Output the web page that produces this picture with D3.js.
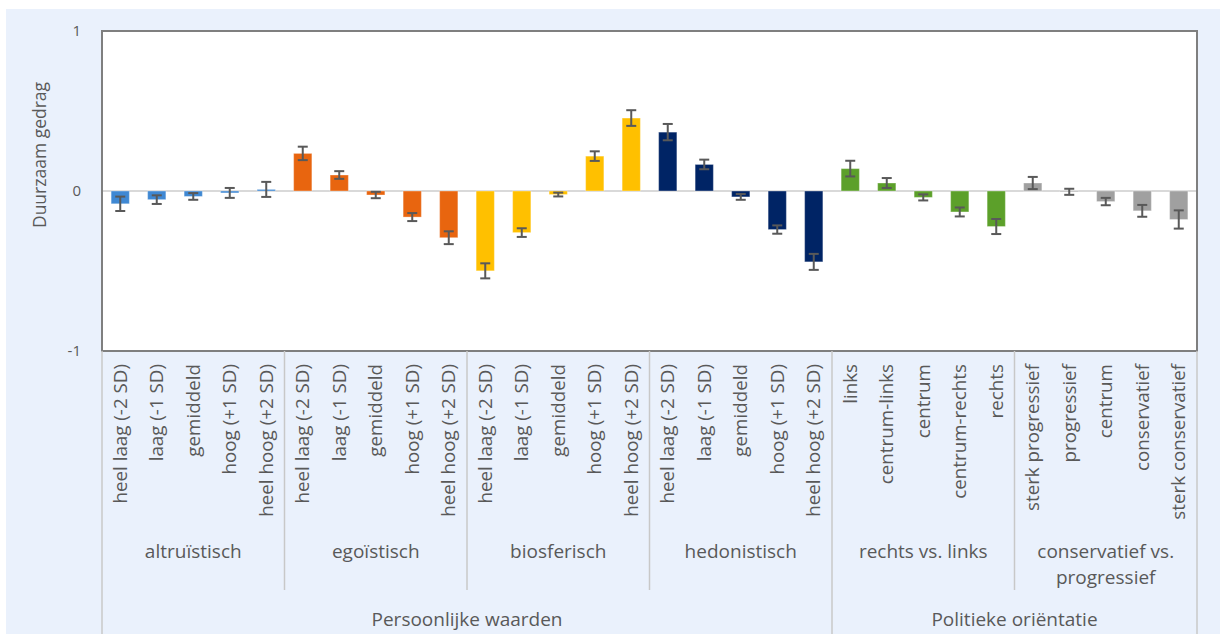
<!DOCTYPE html>
<html><head><meta charset="utf-8">
<script src="https://cdn.jsdelivr.net/npm/d3@7"></script>
<style>
html,body{margin:0;padding:0;background:#fff;}
svg{display:block;font-family:"Open Sans",Lato,sans-serif;}
</style></head>
<body><svg id="c" width="1220" height="634"></svg>
<script>
const categories = [
 "heel laag (-2 SD)","laag (-1 SD)","gemiddeld","hoog (+1 SD)","heel hoog (+2 SD)",
 "heel laag (-2 SD)","laag (-1 SD)","gemiddeld","hoog (+1 SD)","heel hoog (+2 SD)",
 "heel laag (-2 SD)","laag (-1 SD)","gemiddeld","hoog (+1 SD)","heel hoog (+2 SD)",
 "heel laag (-2 SD)","laag (-1 SD)","gemiddeld","hoog (+1 SD)","heel hoog (+2 SD)",
 "links","centrum-links","centrum","centrum-rechts","rechts",
 "sterk progressief","progressief","centrum","conservatief","sterk conservatief"];
const values = [-0.08,-0.054,-0.034,-0.012,0.01,
 0.235,0.10,-0.025,-0.163,-0.292,
 -0.499,-0.26,-0.022,0.218,0.456,
 0.368,0.166,-0.037,-0.241,-0.443,
 0.14,0.05,-0.04,-0.131,-0.222,
 0.05,-0.005,-0.066,-0.124,-0.178];
const errors = [0.045,0.027,0.021,0.031,0.047,
 0.042,0.024,0.02,0.025,0.04,
 0.047,0.027,0.012,0.03,0.049,
 0.051,0.03,0.018,0.026,0.05,
 0.049,0.031,0.019,0.028,0.047,
 0.038,0.019,0.023,0.037,0.057];
const subgroups = ["altruïstisch","egoïstisch","biosferisch","hedonistisch","rechts vs. links","conservatief vs.|progressief"];
const subgroupColors = ["#3f88d3","#e8650f","#ffc000","#002465","#5ca02a","#a0a0a0"];
const groups = ["Persoonlijke waarden","Politieke oriëntatie"];
const groupSizes = [4,2];
const yTicks = [-1,0,1];
const yTitle = "Duurzaam gedrag";

const svg = d3.select("#c");
const L=102, R=1197, T=31, B=351;
svg.append("rect").attr("x",6).attr("y",9).attr("width",1214).attr("height",625).attr("fill","#eaf1fc");
svg.append("rect").attr("x",L).attr("y",T).attr("width",R-L).attr("height",B-T).attr("fill","#fff");

const x = d3.scaleBand().domain(d3.range(categories.length)).range([L,R]).paddingInner(0.5).paddingOuter(0.25);
const y = d3.scaleLinear().domain([-1,1]).range([B,T]);

// zero line
svg.append("line").attr("x1",L).attr("x2",R).attr("y1",y(0)).attr("y2",y(0)).attr("stroke","#d9d9d9").attr("stroke-width",2);

// bars
svg.append("g").selectAll("rect").data(values).join("rect")
 .attr("x",(d,i)=>x(i)).attr("width",x.bandwidth())
 .attr("y",d=>y(Math.max(0,d))).attr("height",d=>Math.max(0.8,Math.abs(y(d)-y(0))))
 .attr("fill",(d,i)=>subgroupColors[Math.floor(i/5)])
 .attr("stroke","rgba(255,255,255,0.35)").attr("stroke-width",1);

// error bars
const eg = svg.append("g").attr("stroke","#595959").attr("stroke-width",2);
values.forEach((v,i)=>{
  const cx = x(i)+x.bandwidth()/2, e=errors[i];
  eg.append("line").attr("x1",cx).attr("x2",cx).attr("y1",y(v+e)).attr("y2",y(v-e));
  eg.append("line").attr("x1",cx-5).attr("x2",cx+5).attr("y1",y(v+e)).attr("y2",y(v+e));
  eg.append("line").attr("x1",cx-5).attr("x2",cx+5).attr("y1",y(v-e)).attr("y2",y(v-e));
});

// frame
svg.append("rect").attr("x",L).attr("y",T).attr("width",R-L).attr("height",B-T).attr("fill","none").attr("stroke","#7f7f7f").attr("stroke-width",2);

// y axis labels
const ya = svg.append("g").attr("transform",`translate(${L-18},0)`)
 .call(d3.axisLeft(y).tickValues(yTicks).tickSize(0).tickFormat(d=>String(d).replace("\u2212","-")));
ya.select(".domain").remove();
ya.selectAll("text").attr("font-size",15).attr("fill","#595959").attr("font-family","'Open Sans',sans-serif");

svg.append("text").attr("transform","translate(46,155) rotate(-90)").attr("text-anchor","middle")
 .attr("font-size",17.5).attr("fill","#595959").text(yTitle);

// category labels
svg.append("g").selectAll("text").data(categories).join("text")
 .attr("transform",(d,i)=>`translate(${x(i)+x.bandwidth()/2+6.5},364) rotate(-90)`)
 .attr("text-anchor","end").attr("font-size",18.8).attr("fill","#595959").text(d=>d);

// separators
const step = x.step();
const sep = svg.append("g").attr("stroke","#c8c8c8").attr("stroke-width",1.5);
for(let k=0;k<=subgroups.length;k++){
  const xx = L + k*5*step;
  const major = (k===0||k===4||k===subgroups.length);
  sep.append("line").attr("x1",xx).attr("x2",xx).attr("y1",B).attr("y2",major?634:590);
}
// subgroup labels
subgroups.forEach((s,k)=>{
  const cx = L + (k*5+2.5)*step;
  const lines = s.split("|");
  lines.forEach((ln,j)=>{
    svg.append("text").attr("x",cx).attr("y",558+j*26).attr("text-anchor","middle")
      .attr("font-size",19).attr("fill","#595959").text(ln);
  });
});
// group labels
let start=0;
groups.forEach((g,k)=>{
  const n=groupSizes[k]*5;
  const cx = L + (start+n/2)*step;
  svg.append("text").attr("x",cx).attr("y",626).attr("text-anchor","middle")
    .attr("font-size",19).attr("fill","#595959").text(g);
  start+=n;
});
</script></body></html>
